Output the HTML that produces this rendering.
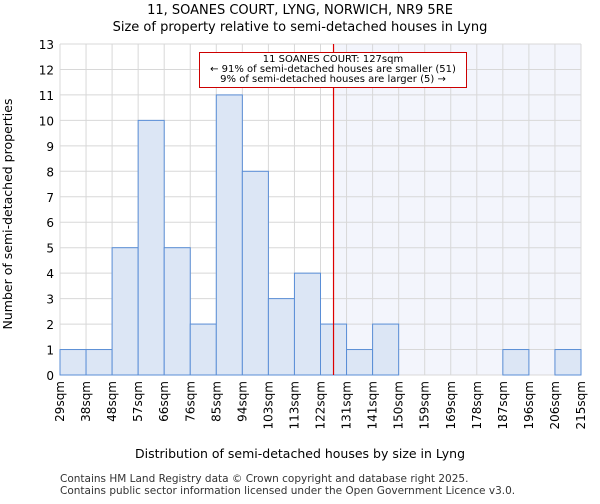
<!DOCTYPE html>
<html><head><meta charset="utf-8"><style>
body{margin:0;background:#fff;font-family:"DejaVu Sans","Liberation Sans",sans-serif;}
</style></head><body>
<svg id="c" width="600" height="500" xmlns="http://www.w3.org/2000/svg">
<text x="300" y="14" text-anchor="middle" font-size="13">11, SOANES COURT, LYNG, NORWICH, NR9 5RE</text>
<text x="300" y="31" text-anchor="middle" font-size="13">Size of property relative to semi-detached houses in Lyng</text>
<g id="plot"></g>
<text x="300" y="458" text-anchor="middle" font-size="12.5">Distribution of semi-detached houses by size in Lyng</text>
<text transform="translate(12,214) rotate(-90)" text-anchor="middle" font-size="12.5">Number of semi-detached properties</text>
<text x="60" y="482" font-size="10.5" fill="#333">Contains HM Land Registry data © Crown copyright and database right 2025.</text>
<text x="60" y="494" font-size="10.5" fill="#333">Contains public sector information licensed under the Open Government Licence v3.0.</text>
</svg>
<script>
const categories=["29sqm","38sqm","48sqm","57sqm","66sqm","76sqm","85sqm","94sqm","103sqm","113sqm","122sqm","131sqm","141sqm","150sqm","159sqm","169sqm","178sqm","187sqm","196sqm","206sqm","215sqm"];
const counts=[1,1,5,10,5,2,11,8,3,4,2,1,2,0,0,0,0,1,0,1];
const yTicks=[0,1,2,3,4,5,6,7,8,9,10,11,12,13];
const markerBin=10.5;
const NS="http://www.w3.org/2000/svg";
const X0=60,X1=581,Y0=375,Y1=44,YMAX=13;
const bw=(X1-X0)/counts.length;
const xs=i=>X0+i*bw;
const ys=v=>Y0-(Y0-Y1)*v/YMAX;
const g=document.getElementById('plot');
function mk(t,a){const e=document.createElementNS(NS,t);for(const k in a)e.setAttribute(k,a[k]);g.appendChild(e);return e;}
const mx=xs(markerBin);
let e=mk('rect',{x:mx,y:Y1,width:X1-mx,height:Y0-Y1,fill:'#f3f5fc'});


yTicks.forEach(t=>{
 let l=mk('line',{x1:X0,x2:X1,y1:ys(t),y2:ys(t),stroke:'#d8d8d8','stroke-width':1});
 
 
 let tx=mk('text',{x:X0-6,y:ys(t)+5,'text-anchor':'end','font-size':'12'});
 tx.textContent=t;
 
 
});
categories.forEach((c,i)=>{
 let l=mk('line',{x1:xs(i),x2:xs(i),y1:Y1,y2:Y0,stroke:'#d8d8d8','stroke-width':1});
 
 
 let tx=mk('text',{transform:`translate(${xs(i)+4},${Y0+6}) rotate(-90)`,'text-anchor':'end','font-size':'12'});
 tx.textContent=c;
 
 
});
counts.forEach((v,i)=>{
 if(v<=0)return;
 let r=mk('rect',{x:xs(i),y:ys(v),width:bw,height:Y0-ys(v),fill:'#dce6f5',stroke:'#5a8ed6','stroke-width':1});
 
 
});
e=mk('line',{x1:mx,x2:mx,y1:Y1,y2:Y0,stroke:'#dd0000','stroke-width':1.2});


e=mk('rect',{x:199.5,y:52.5,width:267,height:35,fill:'#fff',stroke:'#cc0000','stroke-width':1});


["11 SOANES COURT: 127sqm","← 91% of semi-detached houses are smaller (51)","9% of semi-detached houses are larger (5) →"].forEach((s,k)=>{
 let t=mk('text',{x:333,y:62+k*10,'text-anchor':'middle','font-size':'10'});
 t.textContent=s;
 
 
});
</script>
</body></html>
